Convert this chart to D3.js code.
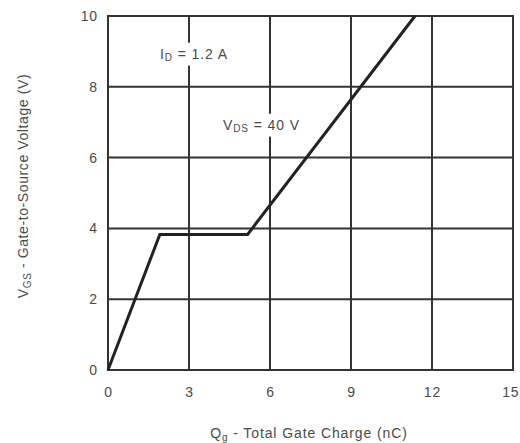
<!DOCTYPE html>
<html><head><meta charset="utf-8">
<script src="https://cdn.jsdelivr.net/npm/d3@7"></script>
<style>
body{margin:0;background:#fff;}
text{font-family:"Liberation Sans",Arial,sans-serif;fill:#4a4a4a;}
</style></head>
<body><svg id="c" width="520" height="443"></svg>
<script>
const xTicks = [0, 3, 6, 9, 12, 15];
const yTicks = [0, 2, 4, 6, 8, 10];
const qg = [0, 1.92, 5.17, 11.37];
const vgs = [0, 3.83, 3.83, 10];

const svg = d3.select("#c");
const x = d3.scaleLinear().domain([0, 15]).range([108, 513]);
const y = d3.scaleLinear().domain([0, 10]).range([370, 16]);
const FS = 14, LS = 0.9;

const grid = svg.append("g").attr("stroke", "#333").attr("stroke-width", 2);
xTicks.forEach(t => grid.append("line").attr("x1", x(t)).attr("x2", x(t)).attr("y1", y(0)).attr("y2", y(10)));
yTicks.forEach(t => grid.append("line").attr("x1", x(0) - 1).attr("x2", x(15) + 1).attr("y1", y(t)).attr("y2", y(t)));

const xAxis = d3.axisBottom(x).tickValues(xTicks).tickSize(0).tickPadding(17);
const gx = svg.append("g").attr("transform", `translate(0,${y(0)})`).call(xAxis);
gx.select(".domain").remove();
gx.selectAll("text").attr("font-size", FS).attr("fill", "#4a4a4a").attr("letter-spacing", LS).style("font-family", "Liberation Sans, Arial, sans-serif");
// keep the last label inside the window
gx.selectAll(".tick").filter(d => d === 15).select("text").attr("text-anchor", "end").attr("x", 519 - x(15));

const yAxis = d3.axisLeft(y).tickValues(yTicks).tickSize(0).tickPadding(10);
const gy = svg.append("g").attr("transform", `translate(${x(0)},0)`).call(yAxis);
gy.select(".domain").remove();
gy.selectAll("text").attr("font-size", FS).attr("fill", "#4a4a4a").attr("letter-spacing", LS).style("font-family", "Liberation Sans, Arial, sans-serif");

const pts = qg.map((q, i) => [q, vgs[i]]);
svg.append("path").datum(pts)
  .attr("d", d3.line().x(d => x(d[0])).y(d => y(d[1])))
  .attr("fill", "none").attr("stroke", "#222").attr("stroke-width", 3).attr("stroke-linejoin", "miter");

function label(cx, cy, main, sub, rest) {
  const g = svg.append("g");
  const t = g.append("text").attr("x", cx).attr("y", cy).attr("font-size", FS).attr("letter-spacing", LS).attr("dominant-baseline", "middle");
  t.append("tspan").text(main);
  t.append("tspan").attr("font-size", 10).attr("dy", 3).text(sub);
  t.append("tspan").attr("dy", -3).text(rest);
  const bb = t.node().getBBox();
  g.insert("rect", "text").attr("x", bb.x - 3).attr("y", bb.y - 3).attr("width", bb.width + 6).attr("height", bb.height + 6).attr("fill", "#fff");
}
label(160, 55, "I", "D", " = 1.2 A");
label(223, 126, "V", "DS", " = 40 V");

const xt = svg.append("text").attr("x", 309).attr("y", 438).attr("text-anchor", "middle").attr("font-size", FS).attr("letter-spacing", LS);
xt.append("tspan").text("Q");
xt.append("tspan").attr("font-size", 10).attr("dy", 3).text("g");
xt.append("tspan").attr("dy", -3).text(" - Total Gate Charge (nC)");

const yt = svg.append("text").attr("transform", `translate(28,186) rotate(-90)`).attr("text-anchor", "middle").attr("font-size", FS).attr("letter-spacing", 0.6);
yt.append("tspan").text("V");
yt.append("tspan").attr("font-size", 10).attr("dy", 3).text("GS");
yt.append("tspan").attr("dy", -3).text(" - Gate-to-Source Voltage (V)");
</script></body></html>
